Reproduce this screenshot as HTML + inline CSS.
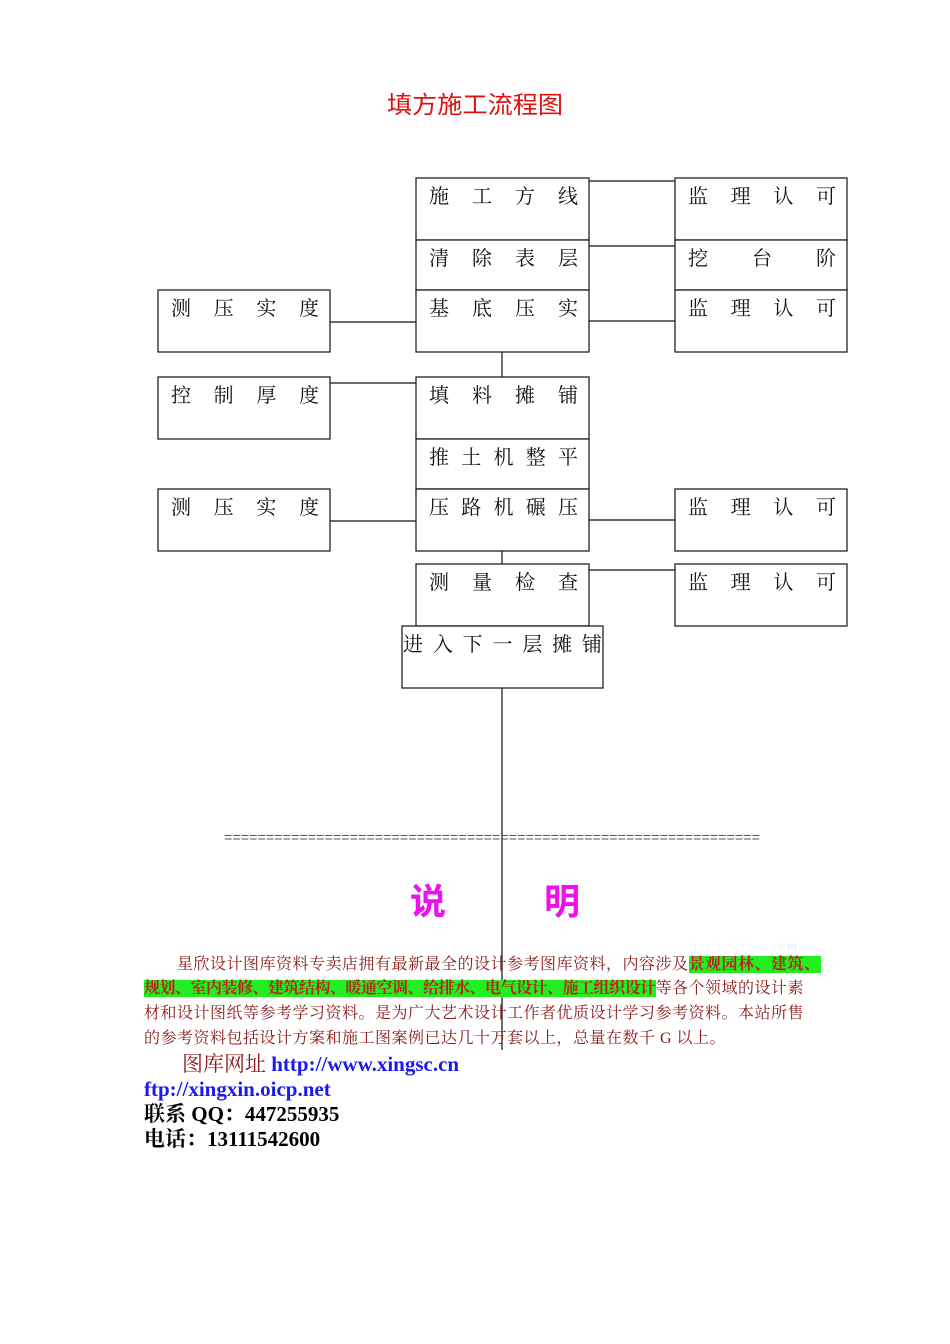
<!DOCTYPE html>
<html><head><meta charset="utf-8"><style>
body{margin:0;background:#fff;width:950px;height:1344px;overflow:hidden}
svg{position:absolute;left:0;top:0}
.b{fill:#fff;stroke:#222;stroke-width:1.3}
.t{font-family:"Liberation Serif","Noto Serif CJK SC",serif;font-size:20px;fill:#111}
.p{position:absolute;font-family:"Liberation Serif","Noto Serif CJK SC",serif;font-size:16px;letter-spacing:0.5px;line-height:18px;color:#8b1a1a;white-space:nowrap}
.q{position:absolute;font-family:"Liberation Serif","Noto Serif CJK SC",serif;font-size:21px;line-height:20px;white-space:nowrap;font-weight:bold}
.hl{background:#22ee22;color:#c0201a;font-weight:bold}
</style></head><body>
<svg width="950" height="1344" xmlns="http://www.w3.org/2000/svg">
<text x="475" y="113" text-anchor="middle" textLength="176" lengthAdjust="spacingAndGlyphs" font-family="Liberation Sans,Noto Sans CJK SC,sans-serif" font-size="24" fill="#e01010">填方施工流程图</text>
<g stroke="#111" stroke-width="1.2">
<line x1="589" y1="181" x2="675" y2="181"/>
<line x1="589" y1="246" x2="675" y2="246"/>
<line x1="589" y1="321" x2="675" y2="321"/>
<line x1="330" y1="322" x2="416" y2="322"/>
<line x1="330" y1="383" x2="416" y2="383"/>
<line x1="330" y1="521" x2="416" y2="521"/>
<line x1="589" y1="520" x2="675" y2="520"/>
<line x1="589" y1="570" x2="675" y2="570"/>
<line x1="502" y1="352" x2="502" y2="377"/>
<line x1="502" y1="551" x2="502" y2="564"/>
<line x1="502" y1="688" x2="502" y2="1050"/>
</g>
<rect class="b" x="416" y="178" width="173" height="62"/>
<rect class="b" x="416" y="240" width="173" height="50"/>
<rect class="b" x="416" y="290" width="173" height="62"/>
<rect class="b" x="416" y="377" width="173" height="62"/>
<rect class="b" x="416" y="439" width="173" height="50"/>
<rect class="b" x="416" y="489" width="173" height="62"/>
<rect class="b" x="416" y="564" width="173" height="62"/>
<rect class="b" x="402" y="626" width="201" height="62"/>
<rect class="b" x="675" y="178" width="172" height="62"/>
<rect class="b" x="675" y="240" width="172" height="50"/>
<rect class="b" x="675" y="290" width="172" height="62"/>
<rect class="b" x="675" y="489" width="172" height="62"/>
<rect class="b" x="675" y="564" width="172" height="62"/>
<rect class="b" x="158" y="290" width="172" height="62"/>
<rect class="b" x="158" y="377" width="172" height="62"/>
<rect class="b" x="158" y="489" width="172" height="62"/>
<g class="t">
<text x="429" y="203" textLength="149" lengthAdjust="spacing">施工方线</text>
<text x="429" y="265" textLength="149" lengthAdjust="spacing">清除表层</text>
<text x="429" y="315" textLength="149" lengthAdjust="spacing">基底压实</text>
<text x="429" y="402" textLength="149" lengthAdjust="spacing">填料摊铺</text>
<text x="429" y="464" textLength="149" lengthAdjust="spacing">推土机整平</text>
<text x="429" y="514" textLength="149" lengthAdjust="spacing">压路机碾压</text>
<text x="429" y="589" textLength="149" lengthAdjust="spacing">测量检查</text>
<text x="403" y="651" textLength="199" lengthAdjust="spacing">进入下一层摊铺</text>
<text x="688" y="203" textLength="148" lengthAdjust="spacing">监理认可</text>
<text x="688" y="265" textLength="148" lengthAdjust="spacing">挖台阶</text>
<text x="688" y="315" textLength="148" lengthAdjust="spacing">监理认可</text>
<text x="688" y="514" textLength="148" lengthAdjust="spacing">监理认可</text>
<text x="688" y="589" textLength="148" lengthAdjust="spacing">监理认可</text>
<text x="171" y="315" textLength="148" lengthAdjust="spacing">测压实度</text>
<text x="171" y="402" textLength="148" lengthAdjust="spacing">控制厚度</text>
<text x="171" y="514" textLength="148" lengthAdjust="spacing">测压实度</text>
</g>
<text x="224" y="842" textLength="536" lengthAdjust="spacingAndGlyphs" font-family="Liberation Mono,monospace" font-size="14" fill="#555">================================================================</text>
<text x="410" y="914" font-family="Liberation Sans,Noto Sans CJK SC,sans-serif" font-size="36" font-weight="bold" fill="#ee10ee">说</text>
<text x="544" y="914" font-family="Liberation Sans,Noto Sans CJK SC,sans-serif" font-size="36" font-weight="bold" fill="#ee10ee">明</text>
</svg>
<div class="p" style="left:177px;top:956px">星欣设计图库资料专卖店拥有最新最全的设计参考图库资料，内容涉及<span class="hl">景观园林、建筑、</span></div>
<div class="p" style="left:144px;top:980px"><span class="hl" style="letter-spacing:-0.5px">规划、室内装修、建筑结构、暖通空调、给排水、电气设计、施工组织设计</span>等各个领域的设计素</div>
<div class="p" style="left:144px;top:1005px">材和设计图纸等参考学习资料。是为广大艺术设计工作者优质设计学习参考资料。本站所售</div>
<div class="p" style="left:144px;top:1030px">的参考资料包括设计方案和施工图案例已达几十万套以上，总量在数千 G 以上。</div>
<div class="q" style="left:182px;top:1054px;font-weight:normal;color:#8b1a1a">图库网址 <b style="color:#1a1aee">http://www.xingsc.cn</b></div>
<div class="q" style="left:144px;top:1079px;color:#1a1aee">ftp://xingxin.oicp.net</div>
<div class="q" style="left:144px;top:1104px;color:#000">联系 QQ：447255935</div>
<div class="q" style="left:144px;top:1129px;color:#000">电话：13111542600</div>
</body></html>
